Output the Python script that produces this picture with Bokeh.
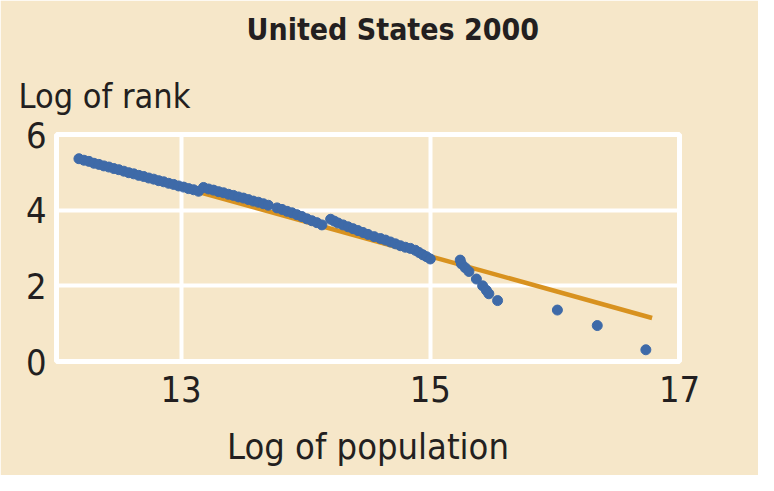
from bokeh.plotting import figure
from bokeh.models import Title, FixedTicker, Range1d
from bokeh.embed import file_html
from bokeh.resources import INLINE

# ---- data ----
title_text = "United States 2000"
y_label = "Log of rank"
x_label = "Log of population"

x_ticks = [13, 15, 17]
y_ticks = [0, 2, 4, 6]

log_pop = [
    12.18, 12.22, 12.26, 12.30, 12.34, 12.38, 12.42, 12.46, 12.50, 12.54,
    12.58, 12.62, 12.66, 12.70, 12.74, 12.78, 12.82, 12.86, 12.90, 12.94,
    12.98, 13.02, 13.06, 13.10, 13.14,
    13.18, 13.22, 13.26, 13.30, 13.34, 13.38, 13.42, 13.46, 13.50, 13.54,
    13.58, 13.62, 13.66, 13.70,
    13.77, 13.81, 13.85, 13.89, 13.93, 13.97, 14.01, 14.05, 14.09, 14.13,
    14.20, 14.23, 14.26, 14.30, 14.34, 14.38, 14.42, 14.46, 14.50, 14.55,
    14.60, 14.64, 14.68,
    14.72, 14.76, 14.80, 14.84, 14.88, 14.91, 14.94, 14.97, 15.00,
    15.24, 15.25, 15.28, 15.31, 15.37, 15.42, 15.45, 15.47, 15.54,
    16.02, 16.34, 16.73,
]
log_rank = [
    5.36, 5.32, 5.29, 5.24, 5.21, 5.17, 5.14, 5.10, 5.07, 5.03,
    4.99, 4.96, 4.92, 4.89, 4.85, 4.82, 4.78, 4.75, 4.71, 4.68,
    4.64, 4.61, 4.57, 4.54, 4.50,
    4.60, 4.56, 4.53, 4.49, 4.46, 4.42, 4.39, 4.35, 4.32, 4.28,
    4.24, 4.21, 4.17, 4.13,
    4.06, 4.02, 3.97, 3.93, 3.88, 3.83, 3.77, 3.72, 3.67, 3.61,
    3.76, 3.71, 3.66, 3.61, 3.56, 3.51, 3.46, 3.41, 3.36, 3.30,
    3.25, 3.21, 3.16,
    3.11, 3.06, 3.02, 2.99, 2.94, 2.88, 2.82, 2.77, 2.71,
    2.68, 2.58, 2.48, 2.38, 2.18, 2.00, 1.88, 1.79, 1.61,
    1.36, 0.95, 0.31,
]

fit_x = [12.18, 16.78]
fit_y = [5.36, 1.15]

# ---- style ----
BG = "#F6E7C9"
BLUE = "#3E6AA8"
ORANGE = "#D8921F"
TEXT = "#231F20"
FONT = "DejaVu Sans Condensed"

p = figure(
    width=758, height=475,
    x_range=Range1d(12, 17), y_range=Range1d(0, 6),
    output_backend="svg", toolbar_location=None,
    min_border_left=56, min_border_right=79,
    min_border_top=0, min_border_bottom=114,
    background_fill_color=BG, border_fill_color=BG,
)
p.title.visible = False
p.outline_line_color = "white"
p.outline_line_width = 5

p.line(fit_x, fit_y, line_color=ORANGE, line_width=4.5)
p.scatter(log_pop, log_rank, marker="circle", size=10,
          fill_color=BLUE, line_color=BLUE)

for ax in (p.xaxis[0], p.yaxis[0]):
    ax.axis_line_color = None
    ax.major_tick_line_color = None
    ax.minor_tick_line_color = None
    ax.major_label_text_font = FONT
    ax.major_label_text_font_size = "36px"
    ax.major_label_text_color = TEXT

p.xaxis.ticker = FixedTicker(ticks=x_ticks)
p.yaxis.ticker = FixedTicker(ticks=y_ticks)
p.xaxis.major_label_standoff = 8
p.yaxis.major_label_standoff = 4
p.xaxis.axis_label = x_label
p.xaxis.axis_label_text_font = FONT
p.xaxis.axis_label_text_font_size = "36px"
p.xaxis.axis_label_text_font_style = "normal"
p.xaxis.axis_label_text_color = TEXT
p.xaxis.axis_label_standoff = 21

p.xgrid.ticker = FixedTicker(ticks=x_ticks)
p.ygrid.ticker = FixedTicker(ticks=y_ticks)
p.grid.grid_line_color = "white"
p.grid.grid_line_width = 4

p.add_layout(Title(text=y_label, align="left", offset=-38, standoff=37,
                   text_font=FONT, text_font_size="34px",
                   text_font_style="normal", text_color=TEXT), "above")
p.add_layout(Title(text=title_text, align="left", offset=190, standoff=18,
                   text_font=FONT, text_font_size="30px",
                   text_font_style="bold", text_color=TEXT), "above")

open("out.html", "w").write(file_html(p, INLINE))
